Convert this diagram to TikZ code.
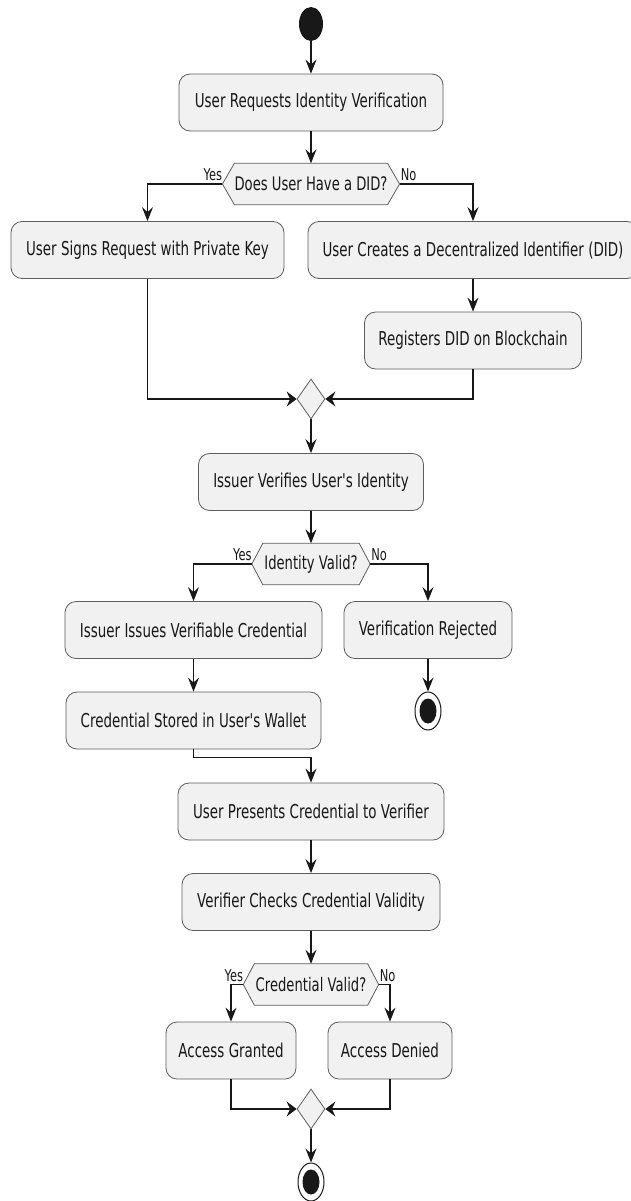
\documentclass[tikz,border=0pt]{standalone}
\usepackage{fontspec}
\setmainfont{DejaVu Sans}
\usepackage{graphicx}
\usetikzlibrary{arrows.meta,shapes.geometric,backgrounds}
\definecolor{boxfill}{HTML}{F1F1F1}
\definecolor{boxline}{HTML}{5E5E5E}
\definecolor{ink}{HTML}{181818}
% text set tall and narrow, as in the rest of the drawing
\newcommand{\vtext}[1]{\scalebox{1}[1.42]{#1}}
\newcommand{\apos}{\textquotesingle}

\begin{document}
\begin{tikzpicture}[x=1bp,y=-1bp,
  act/.style={rectangle, rounded corners=11bp, draw=boxline, fill=boxfill,
    line width=0.8bp, inner sep=0pt, minimum height=57bp,
    font=\fontsize{13.5}{16}\selectfont, text=ink},
  dectext/.style={inner sep=0pt, minimum height=41bp,
    font=\fontsize{13.2}{16}\selectfont, text=ink},
  hexa/.style={draw=boxline, fill=boxfill, line width=0.8bp},
  merge/.style={diamond, draw=boxline, fill=boxfill, line width=0.8bp,
    inner sep=0pt, minimum width=28bp, minimum height=40bp},
  startdot/.style={ellipse, fill=ink, inner sep=0pt,
    minimum width=24bp, minimum height=34bp},
  enddot/.style={ellipse, draw=ink, line width=1bp, fill=white, inner sep=0pt,
    minimum width=26bp, minimum height=38bp,
    path picture={\fill[ink] (path picture bounding box.center)
      ellipse [x radius=8.5bp, y radius=12.5bp];}},
  lbl/.style={inner sep=0pt, font=\fontsize{11.5}{14}\selectfont, text=ink},
  conn/.style={draw=ink, line width=1.1bp,
    -{Stealth[length=14bp, width=11bp, inset=5bp]}},
  sideconn/.style={draw=ink, line width=1.1bp,
    -{Stealth[length=10bp, width=15bp, inset=3.5bp]}},
]
\useasboundingbox (0,0) rectangle (631,1201);

% activities, decisions, merges and terminals
\node[startdot] (start) at (311,24) {};
\node[act, minimum width=264bp] (b1) at (311,102.5) {\vtext{User Requests Identity Verification}};
\node[dectext, minimum width=152bp] (d1) at (311,184) {\vtext{Does User Have a DID?}};
\node[act, minimum width=273bp] (b2) at (147.5,250) {\vtext{User Signs Request with Private Key}};
\node[act, minimum width=330bp] (b3) at (473,250) {\vtext{User Creates a Decentralized Identifier (DID)}};
\node[act, minimum width=217bp] (b4) at (473,340.5) {\vtext{Registers DID on Blockchain}};
\node[merge] (m1) at (311,399) {};
\node[act, minimum width=225bp] (b5) at (311,482) {\vtext{Issuer Verifies User\apos s Identity}};
\node[dectext, minimum width=96bp] (d2) at (311,564) {\vtext{Identity Valid?}};
\node[act, minimum width=257bp] (b6) at (193.5,630) {\vtext{Issuer Issues Verifiable Credential}};
\node[act, minimum width=168bp] (b7) at (428,630) {\vtext{Verification Rejected}};
\node[enddot] (end1) at (428,711) {};
\node[act, minimum width=255bp] (b8) at (193.5,720.5) {\vtext{Credential Stored in User\apos s Wallet}};
\node[act, minimum width=266bp] (b9) at (311,811.5) {\vtext{User Presents Credential to Verifier}};
\node[act, minimum width=258bp] (b10) at (311,902) {\vtext{Verifier Checks Credential Validity}};
\node[dectext, minimum width=113bp] (d3) at (311,984.5) {\vtext{Credential Valid?}};
\node[act, minimum width=130bp] (b11) at (231,1050.5) {\vtext{Access Granted}};
\node[act, minimum width=124bp] (b12) at (390,1050.5) {\vtext{Access Denied}};
\node[merge] (m2) at (311,1109) {};
\node[enddot] (end2) at (311,1182) {};

% pointed ends of the decision hexagons
\coordinate (d1w) at ([xshift=-12bp]d1.west);
\coordinate (d1e) at ([xshift=12bp]d1.east);
\coordinate (d2w) at ([xshift=-11bp]d2.west);
\coordinate (d2e) at ([xshift=11bp]d2.east);
\coordinate (d3w) at ([xshift=-11bp]d3.west);
\coordinate (d3e) at ([xshift=11bp]d3.east);

\begin{scope}[on background layer]
  \fill[white] (0,0) rectangle (631,1201);
  \foreach \d in {d1,d2,d3}
    \draw[hexa] (\d w) -- (\d.north west) -- (\d.north east) -- (\d e)
      -- (\d.south east) -- (\d.south west) -- cycle;
\end{scope}

% branch labels
\node[lbl, anchor=south east] (y1) at ([yshift=3bp]d1w) {\vtext{Yes}};
\node[lbl, anchor=south west] (n1) at ([xshift=1bp,yshift=3bp]d1e) {\vtext{No}};
\node[lbl, anchor=south east] (y2) at ([yshift=3bp]d2w) {\vtext{Yes}};
\node[lbl, anchor=south west] (n2) at ([xshift=1bp,yshift=3bp]d2e) {\vtext{No}};
\node[lbl, anchor=south east] (y3) at ([yshift=3bp]d3w) {\vtext{Yes}};
\node[lbl, anchor=south west] (n3) at ([xshift=1bp,yshift=3bp]d3e) {\vtext{No}};

% control flow
\draw[conn] (start) -- (b1);
\draw[conn] (b1) -- (d1.north);
\draw[conn] (d1w) -| (b2.north);
\draw[conn] (d1e) -| (b3.north);
\draw[conn] (b3) -- (b4);
\draw[sideconn] (b2.south) |- (m1.west);
\draw[sideconn] (b4.south) |- (m1.east);
\draw[conn] (m1) -- (b5);
\draw[conn] (b5) -- (d2.north);
\draw[conn] (d2w) -| (b6.north);
\draw[conn] (d2e) -| (b7.north);
\draw[conn] (b7) -- (end1);
\draw[conn] (b6) -- (b8);
\draw[conn] (b8.south) -- ++(0,8) -| (b9.north);
\draw[conn] (b9) -- (b10);
\draw[conn] (b10) -- (d3.north);
\draw[conn] (d3w) -| (b11.north);
\draw[conn] (d3e) -| (b12.north);
\draw[sideconn] (b11.south) |- (m2.west);
\draw[sideconn] (b12.south) |- (m2.east);
\draw[conn] (m2) -- (end2);
\end{tikzpicture}
\end{document}
